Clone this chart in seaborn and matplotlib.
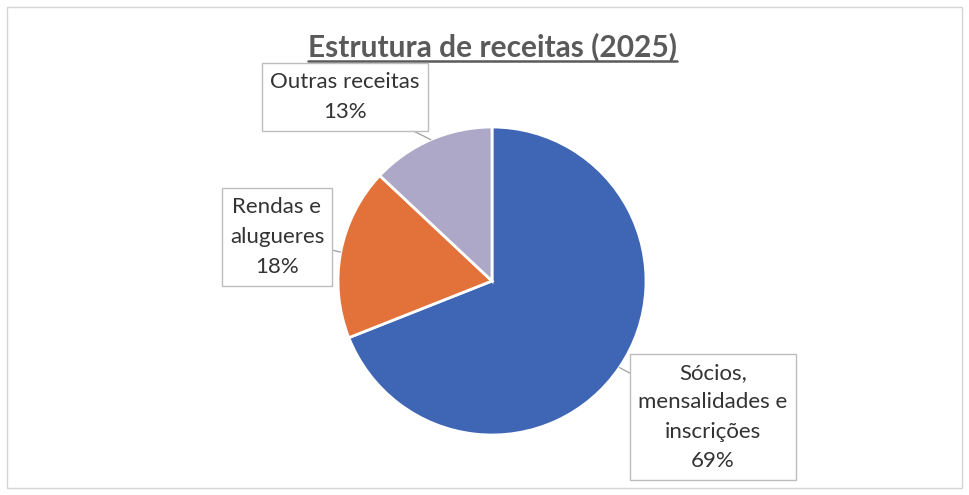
import numpy as np
import matplotlib
matplotlib.use("Agg")
import matplotlib.pyplot as plt
from matplotlib.lines import Line2D
from matplotlib.patches import Rectangle
import seaborn as sns

# Revenue structure for 2025 (shares in %)
categories = ["Sócios,\nmensalidades e\ninscrições", "Rendas e\nalugueres", "Outras receitas"]
shares = [69, 18, 13]
slice_colors = ["#3F65B5", "#E3723A", "#ADA8C7"]
title = "Estrutura de receitas (2025)"

sns.set_theme(style="white")
plt.rcParams["font.family"] = ["Lato", "DejaVu Sans"]

W, H, DPI = 969, 495, 100
fig = plt.figure(figsize=(W / DPI, H / DPI), dpi=DPI)
fig.patch.set_facecolor("white")

# pie placement in pixels (centre and radius)
cx, cy, r = 492, 281, 154
ax = fig.add_axes([(cx - r) / W, 1 - (cy + r) / H, 2 * r / W, 2 * r / H])
ax.axis("off")

wedges, _ = ax.pie(
    shares,
    colors=slice_colors,
    startangle=90,
    counterclock=False,
    radius=1.0,
    wedgeprops=dict(edgecolor="white", linewidth=2),
)
ax.set_xlim(-1, 1)
ax.set_ylim(-1, 1)
ax.set_aspect("equal")

# data labels: centre of each label in pixels (from top-left)
box_centres = [(713, 417), (277, 237), (345, 97)]
text_color = "#333333"
labels = []
for lab, val, (bx, by) in zip(categories, shares, box_centres):
    txt = fig.text(bx / W, 1 - by / H, f"{lab}\n{val}%", ha="center",
                   va="center", fontsize=16, color=text_color,
                   linespacing=1.6, zorder=5)
    labels.append(txt)

# underlined title
t = fig.text(492 / W, 1 - 47 / H, title, ha="center", va="center",
             fontsize=21.5, fontweight="bold", color="#5a5a5a")

fig.canvas.draw()
rend = fig.canvas.get_renderer()

bb = t.get_window_extent(renderer=rend)
uy = (bb.y0 + 0.5) / H
fig.add_artist(Line2D([bb.x0 / W, bb.x1 / W], [uy, uy],
                      transform=fig.transFigure, color="#5a5a5a", lw=1.8))

# label frames and leader lines to the slice mid-points
padx, pady = 8, 9
for w, txt in zip(wedges, labels):
    e = txt.get_window_extent(renderer=rend)
    x0, y0 = e.x0 - padx, e.y0 - pady
    x1, y1 = e.x1 + padx, e.y1 + pady
    fig.add_artist(Rectangle((x0 / W, y0 / H), (x1 - x0) / W, (y1 - y0) / H,
                             transform=fig.transFigure, fc="white",
                             ec="#bdbdbd", lw=1, zorder=4))
    mid = np.deg2rad((w.theta1 + w.theta2) / 2)
    px, py = ax.transData.transform((np.cos(mid), np.sin(mid)))
    mx, my = (x0 + x1) / 2, (y0 + y1) / 2
    hw, hh = (x1 - x0) / 2, (y1 - y0) / 2
    dx, dy = px - mx, py - my
    s = min(hw / abs(dx) if dx else np.inf, hh / abs(dy) if dy else np.inf)
    sx, sy = mx + s * dx, my + s * dy
    fig.add_artist(Line2D([sx / W, px / W], [sy / H, py / H],
                          transform=fig.transFigure, color="#a0a0a0",
                          lw=0.9, zorder=3))

# chart frame
fig.add_artist(Rectangle((7 / W, 7 / H), (W - 14) / W, (H - 14) / H,
                         transform=fig.transFigure, fill=False,
                         ec="#d6d6d6", lw=1))

fig.savefig("out.png", dpi=DPI, facecolor="white")
